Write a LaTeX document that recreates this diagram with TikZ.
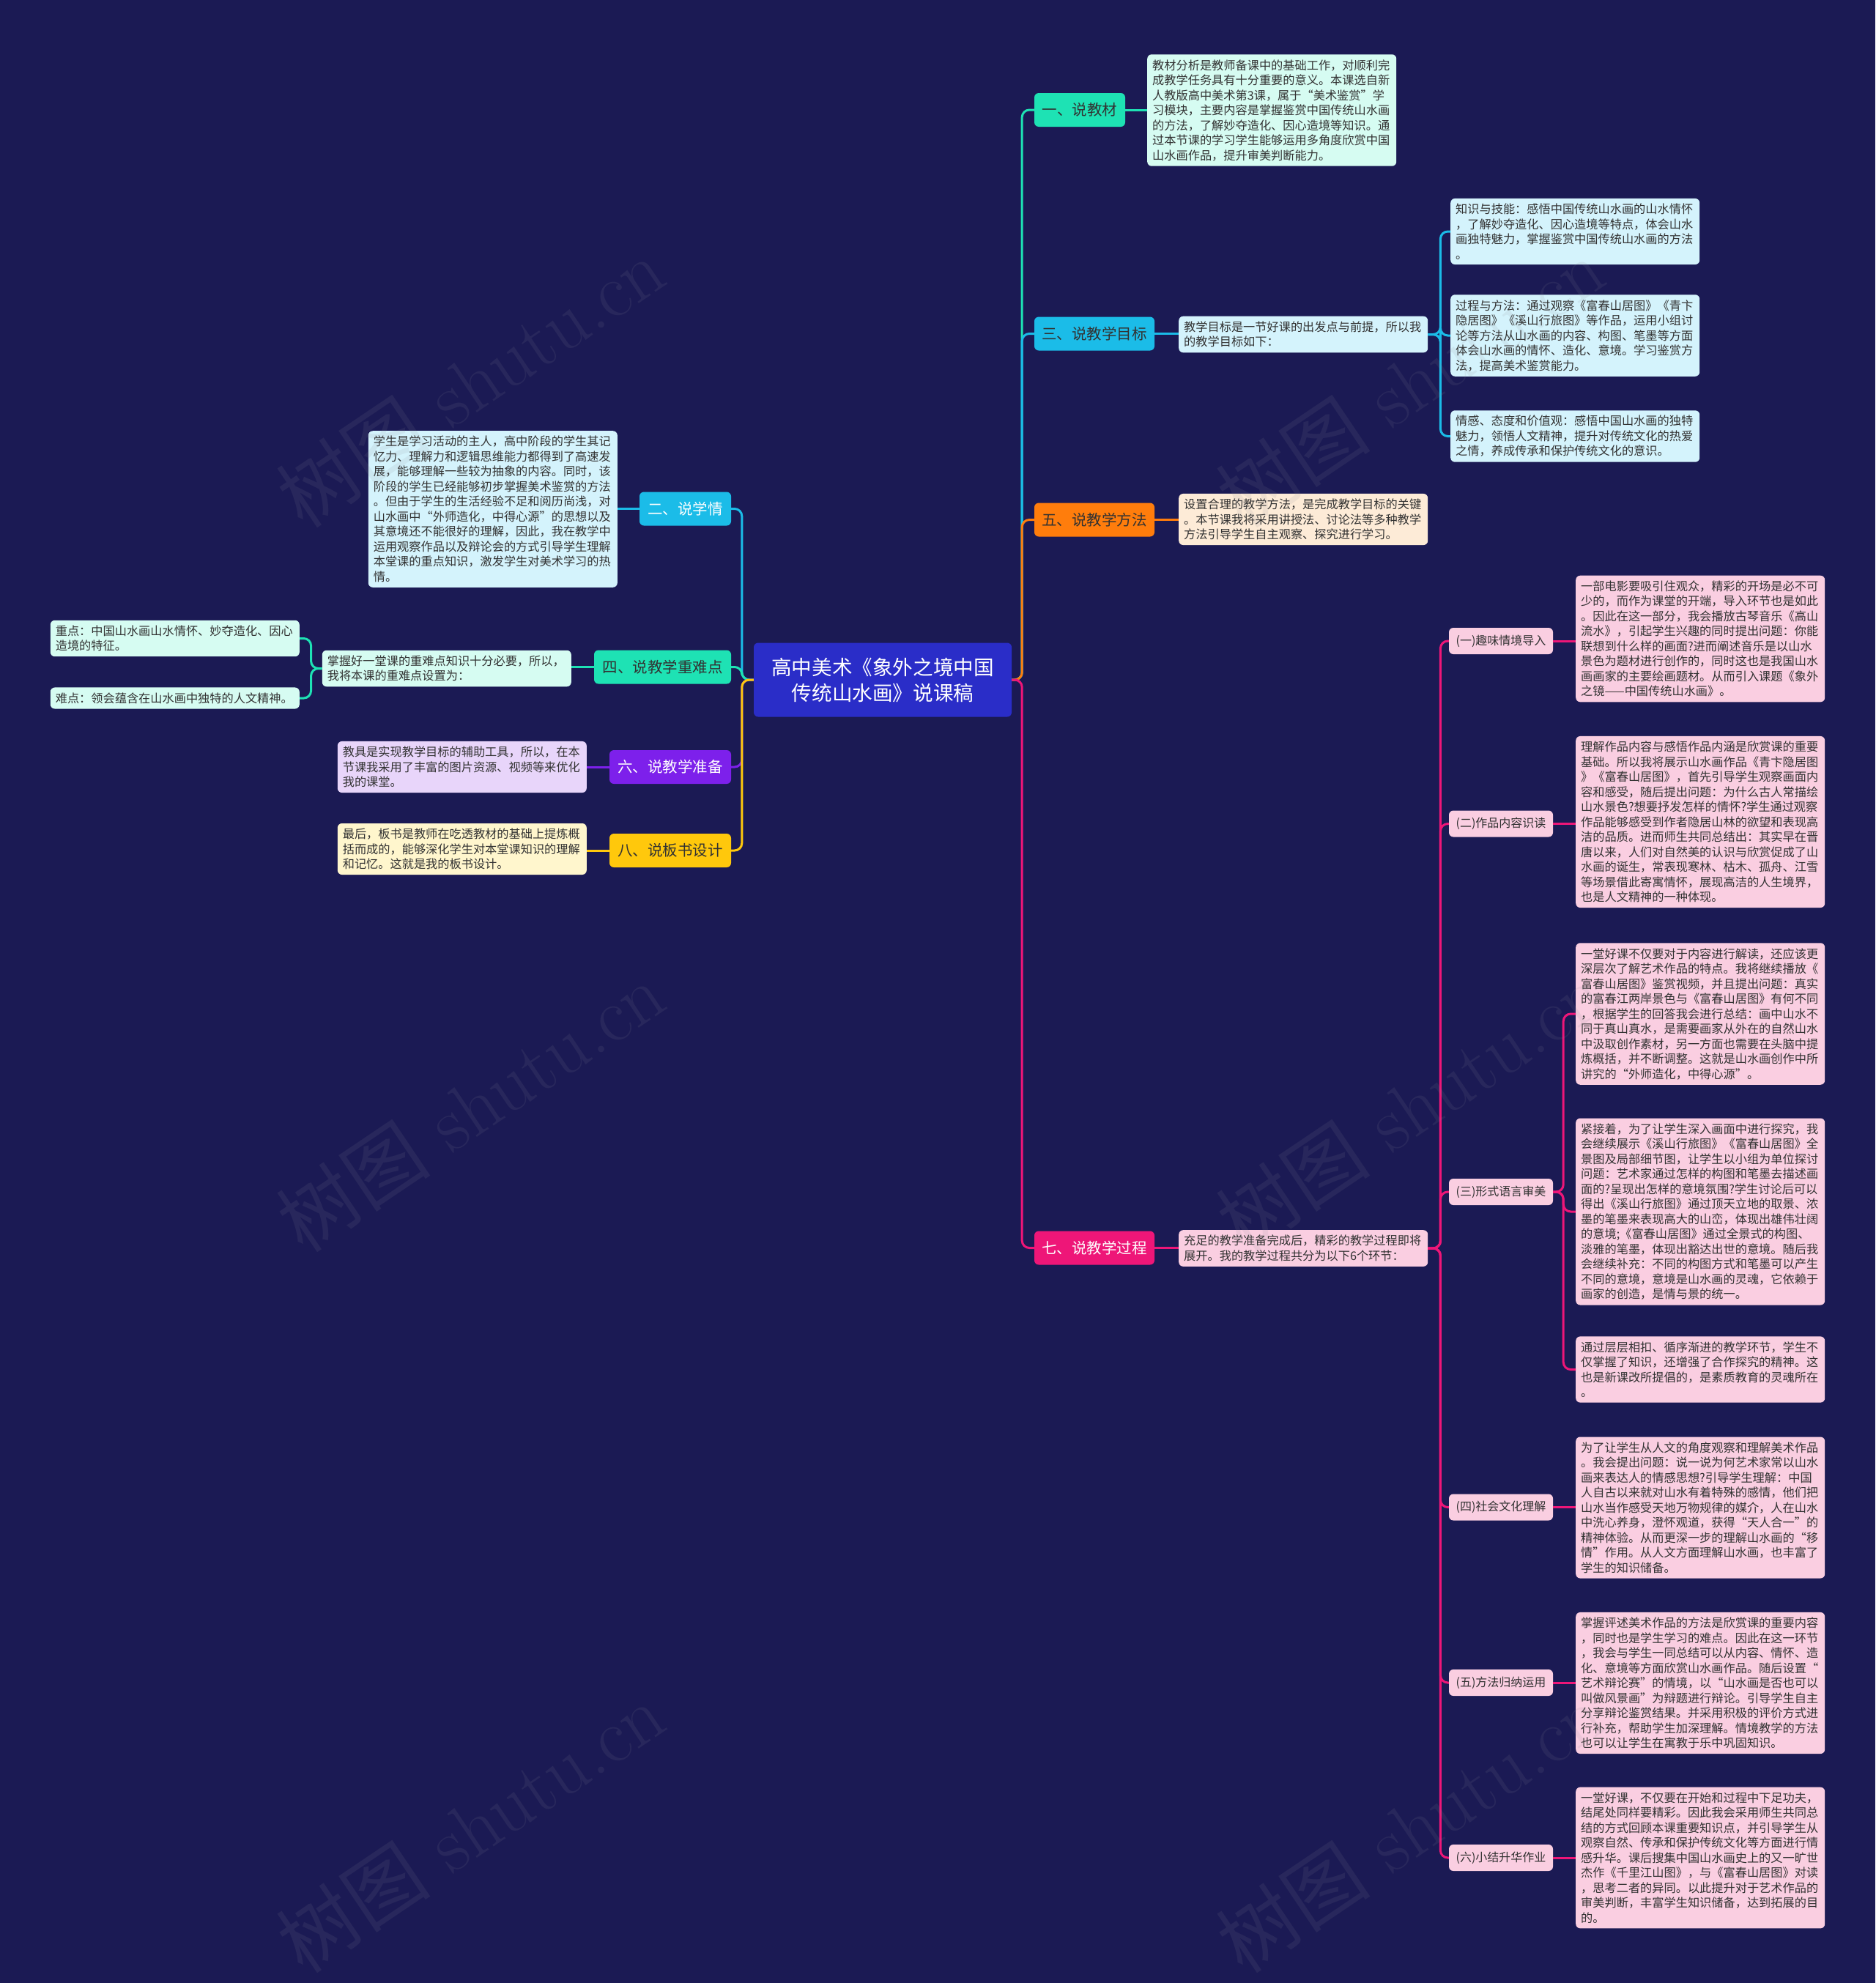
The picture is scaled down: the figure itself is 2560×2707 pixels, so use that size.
\documentclass[tikz,border=0pt]{standalone}
\usepackage{fontspec}
\newfontfamily\cjk{Noto Sans CJK SC}
\definecolor{bg}{RGB}{27,26,84}
\definecolor{ctrblue}{RGB}{42,45,200}
\definecolor{tealc}{RGB}{30,226,180}
\definecolor{ltealc}{RGB}{214,252,242}
\definecolor{cyanc}{RGB}{27,188,232}
\definecolor{lcyanc}{RGB}{212,243,252}
\definecolor{orangec}{RGB}{255,125,12}
\definecolor{lorangec}{RGB}{253,235,215}
\definecolor{purplec}{RGB}{125,32,235}
\definecolor{lpurplec}{RGB}{232,213,250}
\definecolor{yellowc}{RGB}{255,200,12}
\definecolor{lyellowc}{RGB}{255,246,205}
\definecolor{pinkc}{RGB}{238,22,120}
\definecolor{lpinkc}{RGB}{250,206,225}
\definecolor{txt}{RGB}{50,50,50}
\definecolor{wm}{RGB}{140,140,150}
\tikzset{
  tbox/.style={rounded corners=6pt, inner xsep=7pt, inner ysep=7pt, text width=326pt, align=left,
    font=\cjk\fontsize{16.2}{20.5}\selectfont, text=txt},
  branch/.style={rounded corners=6pt, inner xsep=4pt, minimum height=46pt,
    font=\cjk\fontsize{20.5}{24}\selectfont, align=center},
  subn/.style={rounded corners=6pt, fill=lpinkc, text=txt, minimum width=142pt, minimum height=36pt,
    inner xsep=3pt, font=\cjk\fontsize{16}{19}\selectfont},
  conn/.style={draw=#1, line width=3pt, rounded corners=10pt},
  wmark/.style={text=wm, opacity=0.12, rotate=34, font=\fontsize{106}{116}\selectfont}
}
\begin{document}
\begin{tikzpicture}[x=1pt,y=-1pt]
\fill[bg] (0,0) rectangle (2560,2707);
\useasboundingbox (0,0) rectangle (2560,2707);

% ---------- center ----------
\node[fill=ctrblue, rounded corners=6pt, text=white, align=center, minimum width=352pt, minimum height=101pt,
  font=\cjk\fontsize{27.6}{35}\selectfont] (c) at (1205,928) {高中美术《象外之境中国\\传统山水画》说课稿};

% ---------- right branches ----------
\node[branch, fill=tealc, text=txt, minimum width=124pt] (b1) at (1474,150) {一、说教材};
\node[branch, fill=cyanc, text=txt, minimum width=164pt] (b3) at (1494,455.5) {三、说教学目标};
\node[branch, fill=orangec, text=txt, minimum width=164pt] (b5) at (1494,709.5) {五、说教学方法};
\node[branch, fill=pinkc, text=white, minimum width=164pt] (b7) at (1494,1703.5) {七、说教学过程};

% ---------- left branches ----------
\node[branch, fill=cyanc, text=white, minimum width=125pt] (b2) at (935.5,694.5) {二、说学情};
\node[branch, fill=tealc, text=txt, minimum width=187pt] (b4) at (904.5,910.5) {四、说教学重难点};
\node[branch, fill=purplec, text=white, minimum width=166pt] (b6) at (915,1047) {六、说教学准备};
\node[branch, fill=yellowc, text=txt, minimum width=166pt] (b8) at (915,1161) {八、说板书设计};

% ---------- 一 ----------
\node[tbox, fill=ltealc, anchor=west] (t1) at (1566,150.5) {教材分析是教师备课中的基础工作，对顺利完\\成教学任务具有十分重要的意义。本课选自新\\人教版高中美术第3课，属于“美术鉴赏”学\\习模块，主要内容是掌握鉴赏中国传统山水画\\的方法，了解妙夺造化、因心造境等知识。通\\过本节课的学习学生能够运用多角度欣赏中国\\山水画作品，提升审美判断能力。};

% ---------- 三 ----------
\node[tbox, fill=lcyanc, anchor=west] (t3) at (1609,456.5) {教学目标是一节好课的出发点与前提，所以我\\的教学目标如下：};
\node[tbox, fill=lcyanc, anchor=west] (s31) at (1980,316) {知识与技能：感悟中国传统山水画的山水情怀\\，了解妙夺造化、因心造境等特点，体会山水\\画独特魅力，掌握鉴赏中国传统山水画的方法\\。};
\node[tbox, fill=lcyanc, anchor=west] (s32) at (1980,458) {过程与方法：通过观察《富春山居图》《青卞\\隐居图》《溪山行旅图》等作品，运用小组讨\\论等方法从山水画的内容、构图、笔墨等方面\\体会山水画的情怀、造化、意境。学习鉴赏方\\法，提高美术鉴赏能力。};
\node[tbox, fill=lcyanc, anchor=west] (s33) at (1980,595.5) {情感、态度和价值观：感悟中国山水画的独特\\魅力，领悟人文精神，提升对传统文化的热爱\\之情，养成传承和保护传统文化的意识。};

% ---------- 五 ----------
\node[tbox, fill=lorangec, anchor=west] (t5) at (1609,709) {设置合理的教学方法，是完成教学目标的关键\\。本节课我将采用讲授法、讨论法等多种教学\\方法引导学生自主观察、探究进行学习。};

% ---------- 七 ----------
\node[tbox, fill=lpinkc, anchor=west] (t7) at (1609,1704) {充足的教学准备完成后，精彩的教学过程即将\\展开。我的教学过程共分为以下6个环节：};

\node[subn] (p1) at (2049,875) {(一)趣味情境导入};
\node[subn] (p2) at (2049,1124.5) {(二)作品内容识读};
\node[subn] (p3) at (2049,1627) {(三)形式语言审美};
\node[subn] (p4) at (2049,2057.5) {(四)社会文化理解};
\node[subn] (p5) at (2049,2297) {(五)方法归纳运用};
\node[subn] (p6) at (2049,2536) {(六)小结升华作业};

\node[tbox, fill=lpinkc, anchor=west] (q1) at (2151,872) {一部电影要吸引住观众，精彩的开场是必不可\\少的，而作为课堂的开端，导入环节也是如此\\。因此在这一部分，我会播放古琴音乐《高山\\流水》，引起学生兴趣的同时提出问题：你能\\联想到什么样的画面?进而阐述音乐是以山水\\景色为题材进行创作的，同时这也是我国山水\\画画家的主要绘画题材。从而引入课题《象外\\之镜——中国传统山水画》。};
\node[tbox, fill=lpinkc, anchor=west] (q2) at (2151,1122) {理解作品内容与感悟作品内涵是欣赏课的重要\\基础。所以我将展示山水画作品《青卞隐居图\\》《富春山居图》，首先引导学生观察画面内\\容和感受，随后提出问题：为什么古人常描绘\\山水景色?想要抒发怎样的情怀?学生通过观察\\作品能够感受到作者隐居山林的欲望和表现高\\洁的品质。进而师生共同总结出：其实早在晋\\唐以来，人们对自然美的认识与欣赏促成了山\\水画的诞生，常表现寒林、枯木、孤舟、江雪\\等场景借此寄寓情怀，展现高洁的人生境界，\\也是人文精神的一种体现。};
\node[tbox, fill=lpinkc, anchor=west] (q3a) at (2151,1384) {一堂好课不仅要对于内容进行解读，还应该更\\深层次了解艺术作品的特点。我将继续播放《\\富春山居图》鉴赏视频，并且提出问题：真实\\的富春江两岸景色与《富春山居图》有何不同\\，根据学生的回答我会进行总结：画中山水不\\同于真山真水，是需要画家从外在的自然山水\\中汲取创作素材，另一方面也需要在头脑中提\\炼概括，并不断调整。这就是山水画创作中所\\讲究的“外师造化，中得心源”。};
\node[tbox, fill=lpinkc, anchor=west] (q3b) at (2151,1654) {紧接着，为了让学生深入画面中进行探究，我\\会继续展示《溪山行旅图》《富春山居图》全\\景图及局部细节图，让学生以小组为单位探讨\\问题：艺术家通过怎样的构图和笔墨去描述画\\面的?呈现出怎样的意境氛围?学生讨论后可以\\得出《溪山行旅图》通过顶天立地的取景、浓\\墨的笔墨来表现高大的山峦，体现出雄伟壮阔\\的意境;《富春山居图》通过全景式的构图、\\淡雅的笔墨，体现出豁达出世的意境。随后我\\会继续补充：不同的构图方式和笔墨可以产生\\不同的意境，意境是山水画的灵魂，它依赖于\\画家的创造，是情与景的统一。};
\node[tbox, fill=lpinkc, anchor=west] (q3c) at (2151,1869.5) {通过层层相扣、循序渐进的教学环节，学生不\\仅掌握了知识，还增强了合作探究的精神。这\\也是新课改所提倡的，是素质教育的灵魂所在\\。};
\node[tbox, fill=lpinkc, anchor=west] (q4) at (2151,2058) {为了让学生从人文的角度观察和理解美术作品\\。我会提出问题：说一说为何艺术家常以山水\\画来表达人的情感思想?引导学生理解：中国\\人自古以来就对山水有着特殊的感情，他们把\\山水当作感受天地万物规律的媒介，人在山水\\中洗心养身，澄怀观道，获得“天人合一”的\\精神体验。从而更深一步的理解山水画的“移\\情”作用。从人文方面理解山水画，也丰富了\\学生的知识储备。};
\node[tbox, fill=lpinkc, anchor=west] (q5) at (2151,2297.5) {掌握评述美术作品的方法是欣赏课的重要内容\\，同时也是学生学习的难点。因此在这一环节\\，我会与学生一同总结可以从内容、情怀、造\\化、意境等方面欣赏山水画作品。随后设置“\\艺术辩论赛”的情境，以“山水画是否也可以\\叫做风景画”为辩题进行辩论。引导学生自主\\分享辩论鉴赏结果。并采用积极的评价方式进\\行补充，帮助学生加深理解。情境教学的方法\\也可以让学生在寓教于乐中巩固知识。};
\node[tbox, fill=lpinkc, anchor=west] (q6) at (2151,2536) {一堂好课，不仅要在开始和过程中下足功夫，\\结尾处同样要精彩。因此我会采用师生共同总\\结的方式回顾本课重要知识点，并引导学生从\\观察自然、传承和保护传统文化等方面进行情\\感升华。课后搜集中国山水画史上的又一旷世\\杰作《千里江山图》，与《富春山居图》对读\\，思考二者的异同。以此提升对于艺术作品的\\审美判断，丰富学生知识储备，达到拓展的目\\的。};

% ---------- 二 ----------
\node[tbox, fill=lcyanc, anchor=east] (t2) at (843,695) {学生是学习活动的主人，高中阶段的学生其记\\忆力、理解力和逻辑思维能力都得到了高速发\\展，能够理解一些较为抽象的内容。同时，该\\阶段的学生已经能够初步掌握美术鉴赏的方法\\。但由于学生的生活经验不足和阅历尚浅，对\\山水画中“外师造化，中得心源”的思想以及\\其意境还不能很好的理解，因此，我在教学中\\运用观察作品以及辩论会的方式引导学生理解\\本堂课的重点知识，激发学生对美术学习的热\\情。};

% ---------- 四 ----------
\node[tbox, fill=ltealc, anchor=east] (t4) at (780,912.5) {掌握好一堂课的重难点知识十分必要，所以，\\我将本课的重难点设置为：};
\node[tbox, fill=ltealc, anchor=east] (zd) at (409,871.5) {重点：中国山水画山水情怀、妙夺造化、因心\\造境的特征。};
\node[tbox, fill=ltealc, anchor=east] (nd) at (409,953) {难点：领会蕴含在山水画中独特的人文精神。};

% ---------- 六 / 八 ----------
\node[tbox, fill=lpurplec, anchor=east] (t6) at (801,1047) {教具是实现教学目标的辅助工具，所以，在本\\节课我采用了丰富的图片资源、视频等来优化\\我的课堂。};
\node[tbox, fill=lyellowc, anchor=east] (t8) at (801,1159) {最后，板书是教师在吃透教材的基础上提炼概\\括而成的，能够深化学生对本堂课知识的理解\\和记忆。这就是我的板书设计。};

% ---------- connectors ----------
\draw[conn=tealc] (c.east) -- ([xshift=14pt]c.east) |- (b1.west);
\draw[conn=cyanc] (c.east) -- ([xshift=14pt]c.east) |- (b3.west);
\draw[conn=orangec] (c.east) -- ([xshift=14pt]c.east) |- (b5.west);
\draw[conn=pinkc] (c.east) -- ([xshift=14pt]c.east) |- (b7.west);

\draw[conn=cyanc] (c.west) -- ([xshift=-16pt]c.west) |- (b2.east);
\draw[conn=tealc] (c.west) -- ([xshift=-16pt]c.west) |- (b4.east);
\draw[conn=purplec] (c.west) -- ([xshift=-16pt]c.west) |- (b6.east);
\draw[conn=yellowc] (c.west) -- ([xshift=-16pt]c.west) |- (b8.east);

\draw[conn=tealc] (b1.east) -- (t1.west |- b1.east);
\draw[conn=cyanc] (b3.east) -- (t3.west |- b3.east);
\draw[conn=orangec] (b5.east) -- (t5.west |- b5.east);
\draw[conn=pinkc] (b7.east) -- (t7.west |- b7.east);

\draw[conn=cyanc] (t3.east) -- ([xshift=17pt]t3.east) |- (s31.west);
\draw[conn=cyanc] (t3.east) -- ([xshift=17pt]t3.east) |- (s32.west);
\draw[conn=cyanc] (t3.east) -- ([xshift=17pt]t3.east) |- (s33.west);

\foreach \p in {p1,p2,p3,p4,p5,p6}
  \draw[conn=pinkc] (t7.east) -- ([xshift=17pt]t7.east) |- (\p.west);
\draw[conn=pinkc] (p1.east) -- (q1.west |- p1.east);
\draw[conn=pinkc] (p2.east) -- (q2.west |- p2.east);
\draw[conn=pinkc] (p4.east) -- (q4.west |- p4.east);
\draw[conn=pinkc] (p5.east) -- (q5.west |- p5.east);
\draw[conn=pinkc] (p6.east) -- (q6.west |- p6.east);
\foreach \q in {q3a,q3b,q3c}
  \draw[conn=pinkc] (p3.east) -- ([xshift=14pt]p3.east) |- (\q.west);

\draw[conn=cyanc] (b2.west) -- (t2.east |- b2.west);
\draw[conn=tealc] (b4.west) -- (t4.east |- b4.west);
\draw[conn=purplec] (b6.west) -- (t6.east |- b6.west);
\draw[conn=yellowc] (b8.west) -- (t8.east |- b8.west);
\draw[conn=tealc] (t4.west) -- ([xshift=-15pt]t4.west) |- (zd.east);
\draw[conn=tealc] (t4.west) -- ([xshift=-15pt]t4.west) |- (nd.east);

% ---------- watermarks ----------
\foreach \wx/\wy [count=\i] in {642/521, 642/1510, 642/2494, 1925/521, 1925/1510, 1925/2494}
  \node[wmark] (wm\i) at (\wx,\wy) {{\cjk 树图} shutu.cn};
\end{tikzpicture}
\end{document}
